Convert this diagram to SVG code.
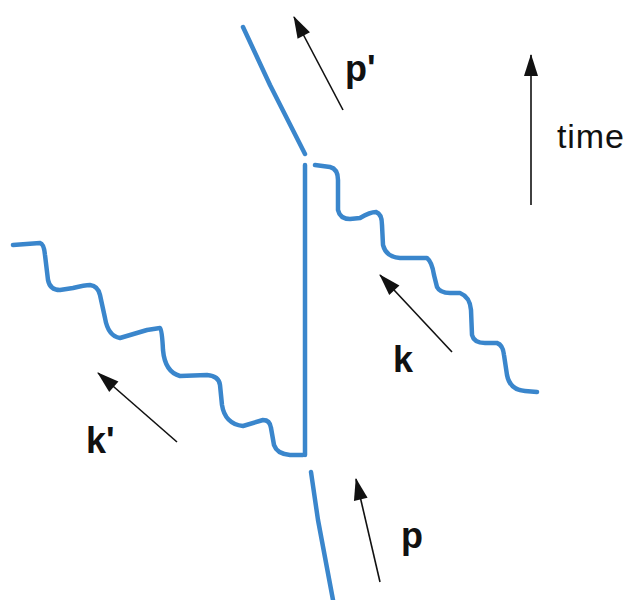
<svg xmlns="http://www.w3.org/2000/svg" width="632" height="600" viewBox="0 0 632 600">
<style>
.ln{fill:none;stroke:#3a86cc;stroke-width:4.5;stroke-linecap:round;stroke-linejoin:round}
.ar{fill:none;stroke:#111;stroke-width:1.6;marker-end:url(#ah)}
.lb{font-family:"Liberation Sans",Arial,sans-serif;font-weight:bold;font-size:36px;fill:#111}
.tm{font-family:"Liberation Sans",Arial,sans-serif;font-size:34px;fill:#111}
</style>
<defs>
<marker id="ah" viewBox="0 0 10 10" refX="9" refY="5" markerWidth="10" markerHeight="10" markerUnits="userSpaceOnUse" orient="auto" overflow="visible">
<path d="M-12,-2 L10,5 L-12,12 Z" fill="#111"/>
</marker>
</defs>
<rect width="632" height="600" fill="#fff"/>
<g id="connectors">
<path id="p-out" class="ln" d="M243,27 L270,85 L305,154"/>
<path id="propagator" class="ln" d="M305,165 L305,455"/>
<path id="p-in" class="ln" d="M311,472 L318,520 L333,600"/>
<path id="kprime" class="ln" d="M13,245 L40,243 Q44,244 45,255 L48,280 Q50,290 60,290 L73,288 Q85,285 90,285 Q98,286 100,295 L105,318 Q108,336 120,338 L147,330 L160,328 Q162,330 163,350 Q165,372 180,376 L207,375 Q219,376 220,385 L222,405 Q225,424 243,426 L263,420 Q270,420 271,428 L274,445 Q277,454 290,455 L303,455"/>
<path id="k" class="ln" d="M315,165 L330,167 Q338,169 338,180 L338,210 Q340,219 350,219 L360,218 Q370,212 376,212 Q382,214 382,225 L383,245 Q386,257 400,258 L427,258 Q432,262 434,275 L437,287 Q440,293 450,293 L460,293 Q470,297 471,310 L472,335 Q474,343 485,343 L497,343 Q503,345 504,355 L507,375 Q510,390 525,391 L537,392"/>
<line class="ar" x1="343" y1="110" x2="294" y2="17"/>
<line class="ar" x1="531" y1="205" x2="531" y2="55"/>
<line class="ar" x1="452" y1="352" x2="380" y2="275"/>
<line class="ar" x1="177" y1="442" x2="98" y2="373"/>
<line class="ar" x1="380" y1="582" x2="356" y2="479"/>
</g>
<g id="label-pprime"><text class="lb" x="345" y="81">p'</text></g>
<g id="label-k"><text class="lb" x="393" y="372">k</text></g>
<g id="label-kprime"><text class="lb" x="86" y="453">k'</text></g>
<g id="label-p"><text class="lb" x="401" y="548">p</text></g>
<g id="label-time"><text class="tm" x="557" y="148" textLength="67">time</text></g>
</svg>
